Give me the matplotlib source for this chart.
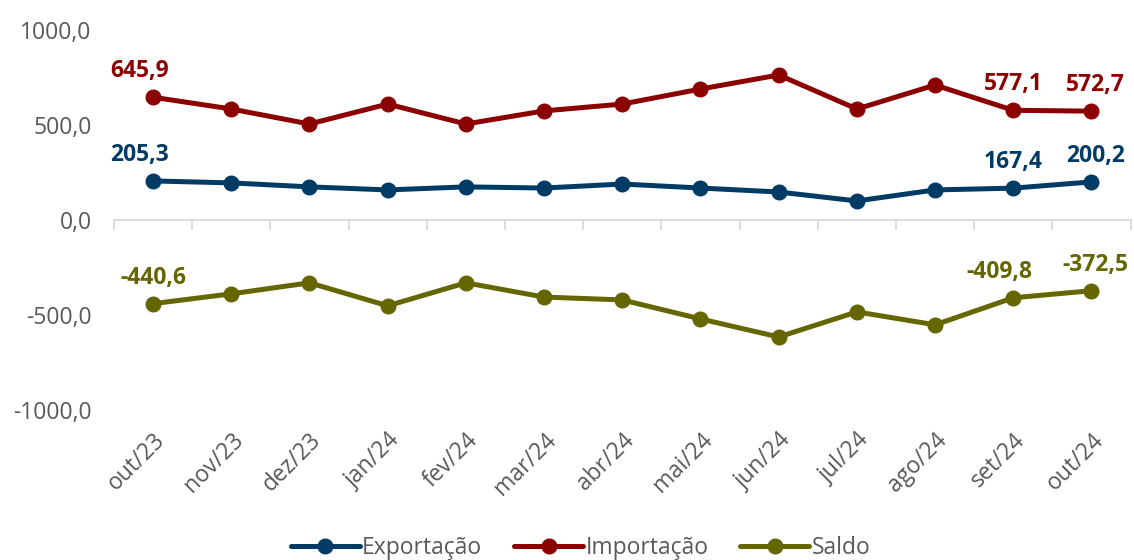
import numpy as np
import matplotlib.pyplot as plt

plt.rcParams['font.family'] = ['Open Sans', 'DejaVu Sans']

meses = ['out/23', 'nov/23', 'dez/23', 'jan/24', 'fev/24', 'mar/24', 'abr/24',
         'mai/24', 'jun/24', 'jul/24', 'ago/24', 'set/24', 'out/24']
exportacao = [205.3, 195, 174, 158, 174, 168, 189, 168, 147, 100, 158, 167.4, 200.2]
importacao = [645.9, 584, 505, 610, 505, 574, 610, 689, 763, 584, 710, 577.1, 572.7]
saldo = [-440.6, -389, -331, -452, -331, -406, -421, -521, -616, -484, -552, -409.8, -372.5]

# pontos com rótulo (índices)
rotulados = [0, 11, 12]

series = [
    ('Exportação', exportacao, '#003B66'),
    ('Importação', importacao, '#8B0000'),
    ('Saldo', saldo, '#666600'),
]

fig = plt.figure(figsize=(11.34, 5.6), dpi=100)
ax = fig.add_axes([0.1005, 0.268, 0.8965, 0.6785])

x = np.arange(len(meses))
for nome, vals, cor in series:
    ax.plot(x, vals, color=cor, lw=3.6, marker='o', ms=10.5, label=nome,
            solid_capstyle='round')
    for i in rotulados:
        if i == 0:
            dx = 0 if nome == 'Saldo' else -10
        elif i == 11:
            dx = -10 if nome == 'Saldo' else 0
        else:
            dx = 3
        ax.annotate(f'{vals[i]:.1f}'.replace('.', ','), (x[i], vals[i]),
                    xytext=(dx, 10), textcoords='offset points',
                    ha='center', va='bottom', color=cor,
                    fontsize=16.5, fontweight='bold')

ax.set_xlim(-0.5, len(meses) - 0.5)
ax.set_ylim(-1000, 1000)
ax.set_yticks([-1000, -500, 0, 500, 1000])
ax.set_yticklabels([f'{v:.1f}'.replace('.', ',') for v in [-1000, -500, 0, 500, 1000]])
ax.tick_params(axis='y', length=0, labelsize=16.5, labelcolor='#595959', pad=16)

for s in ['top', 'right', 'left']:
    ax.spines[s].set_visible(False)
ax.spines['bottom'].set_position(('data', 0))
ax.spines['bottom'].set_color('#D9D9D9')
ax.spines['bottom'].set_linewidth(1.3)

ax.set_xticks(x)
ax.set_xticklabels(meses)
ax.set_xticks(np.arange(len(meses) + 1) - 0.5, minor=True)
ax.tick_params(axis='x', which='minor', length=7, width=1.3, color='#D9D9D9')
ax.tick_params(axis='x', which='major', length=0, labelsize=16.5,
               labelcolor='#595959', pad=150)
plt.setp(ax.get_xticklabels(), rotation=45, ha='right', rotation_mode='anchor')

leg = ax.legend(loc='center', bbox_to_anchor=(0.512, 0.022), bbox_transform=fig.transFigure,
                ncol=3, frameon=False, fontsize=16.5, handlelength=3.0,
                handletextpad=0.1, columnspacing=1.4, borderpad=0)
for t in leg.get_texts():
    t.set_color('#595959')

fig.savefig('out.png', dpi=100)
